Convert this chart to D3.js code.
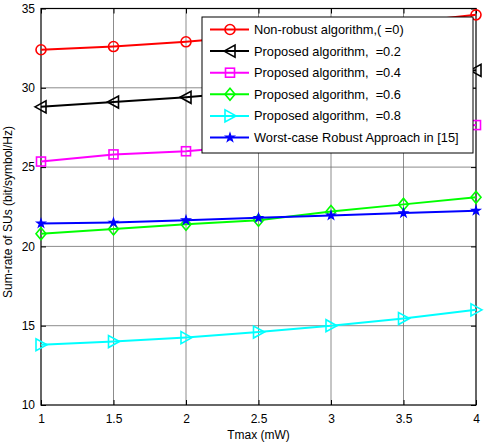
<!DOCTYPE html>
<html><head><meta charset="utf-8">
<script src="https://cdn.jsdelivr.net/npm/d3@7"></script>
<style>body{margin:0;background:#fff}svg{display:block;font-family:"Liberation Sans",Arial,sans-serif}text{white-space:pre}</style>
</head><body><svg id="c" width="488" height="446"></svg>
<script>
const xValues = [1, 1.5, 2, 2.5, 3, 3.5, 4];
const nonRobust = [32.4, 32.6, 32.9, 33.3, 33.7, 34.1, 34.6];
const proposed02 = [28.8, 29.1, 29.4, 29.8, 30.2, 30.6, 31.1];
const proposed04 = [25.35, 25.8, 26.0, 26.4, 26.8, 27.2, 27.65];
const proposed06 = [20.8, 21.1, 21.4, 21.65, 22.2, 22.65, 23.1];
const proposed08 = [13.8, 14.0, 14.25, 14.6, 15.0, 15.45, 16.0];
const worstCase = [21.45, 21.5, 21.65, 21.8, 21.95, 22.1, 22.25];
const xTicks = [1, 1.5, 2, 2.5, 3, 3.5, 4];
const yTicks = [10, 15, 20, 25, 30, 35];
const seriesNames = ["Non-robust algorithm,( =0)", "Proposed algorithm,  =0.2", "Proposed algorithm,  =0.4", "Proposed algorithm,  =0.6", "Proposed algorithm,  =0.8", "Worst-case Robust Approach in [15]"];
const xLabel = "Tmax (mW)";
const yLabel = "Sum-rate of SUs (bit/symbol/Hz)";

const series = [
  {name: seriesNames[0], values: nonRobust, color: "#ff0000", marker: "circle"},
  {name: seriesNames[1], values: proposed02, color: "#000000", marker: "triLeft"},
  {name: seriesNames[2], values: proposed04, color: "#ff00ff", marker: "square"},
  {name: seriesNames[3], values: proposed06, color: "#00ff00", marker: "diamond"},
  {name: seriesNames[4], values: proposed08, color: "#00ffff", marker: "triRight"},
  {name: seriesNames[5], values: worstCase, color: "#0000ff", marker: "star"}
];

const L = 41, R = 476, T = 8.5, B = 405;
const x = d3.scaleLinear().domain([1, 4]).range([L, R]);
const y = d3.scaleLinear().domain([10, 35]).range([B, T]);
const svg = d3.select("#c");

// grid
const g = svg.append("g");
g.selectAll(".gx").data(xTicks.slice(1, -1)).join("line")
  .attr("x1", d => x(d)).attr("x2", d => x(d)).attr("y1", T).attr("y2", B)
  .attr("stroke", "#6e6e6e").attr("stroke-width", 0.8);
g.selectAll(".gy").data(yTicks.slice(1, -1)).join("line")
  .attr("y1", d => y(d)).attr("y2", d => y(d)).attr("x1", L).attr("x2", R)
  .attr("stroke", "#6e6e6e").attr("stroke-width", 0.8);

// axes
const ax = svg.append("g").attr("transform", `translate(0,${B})`)
  .call(d3.axisBottom(x).tickValues(xTicks).tickSizeInner(-5).tickSizeOuter(0).tickPadding(9).tickFormat(d3.format("")));
const axT = svg.append("g").attr("transform", `translate(0,${T})`)
  .call(d3.axisTop(x).tickValues(xTicks).tickSizeInner(-5).tickSizeOuter(0).tickFormat(""));
const ay = svg.append("g").attr("transform", `translate(${L},0)`)
  .call(d3.axisLeft(y).tickValues(yTicks).tickSizeInner(-5).tickSizeOuter(0).tickPadding(6));
const ayR = svg.append("g").attr("transform", `translate(${R},0)`)
  .call(d3.axisRight(y).tickValues(yTicks).tickSizeInner(-5).tickSizeOuter(0).tickFormat(""));
[ax, axT, ay, ayR].forEach(a => {
  a.select(".domain").remove();
  a.selectAll("line").attr("stroke", "#000");
  a.selectAll("text").attr("font-size", 12).attr("fill", "#000").attr("font-family", '"Liberation Sans",Arial,sans-serif');
});
svg.append("rect").attr("x", L).attr("y", T).attr("width", R - L).attr("height", B - T)
  .attr("fill", "none").attr("stroke", "#000").attr("stroke-width", 1.2);

function marker(sel, type, color) {
  if (type === "circle") sel.append("circle").attr("r", 5).attr("fill", "none").attr("stroke", color).attr("stroke-width", 1.6);
  else if (type === "square") sel.append("rect").attr("x", -4.5).attr("y", -4.5).attr("width", 9).attr("height", 9).attr("fill", "none").attr("stroke", color).attr("stroke-width", 1.6);
  else if (type === "diamond") sel.append("path").attr("d", "M0,-6L5,0L0,6L-5,0Z").attr("fill", "none").attr("stroke", color).attr("stroke-width", 1.6);
  else if (type === "triLeft") sel.append("path").attr("d", "M-6,0L5,-6L5,6Z").attr("fill", "none").attr("stroke", color).attr("stroke-width", 1.6);
  else if (type === "triRight") sel.append("path").attr("d", "M6,0L-5,-6L-5,6Z").attr("fill", "none").attr("stroke", color).attr("stroke-width", 1.6);
  else if (type === "star") sel.append("path").attr("d", d3.symbol(d3.symbolStar, 22)()).attr("fill", color).attr("stroke", color).attr("stroke-width", 1.2);
}

const line = d3.line().x((d, i) => x(xValues[i])).y(d => y(d));
series.forEach(s => {
  svg.append("path").attr("d", line(s.values)).attr("fill", "none").attr("stroke", s.color).attr("stroke-width", 2);
  s.values.forEach((v, i) => {
    const m = svg.append("g").attr("transform", `translate(${x(xValues[i])},${y(v)})`);
    marker(m, s.marker, s.color);
  });
});

// legend
const lg = svg.append("g");
lg.append("rect").attr("x", 202).attr("y", 17).attr("width", 271).attr("height", 136)
  .attr("fill", "#fff").attr("stroke", "#000").attr("stroke-width", 1);
series.forEach((s, i) => {
  const yy = 29.5 + i * 21.6;
  lg.append("line").attr("x1", 210).attr("x2", 249).attr("y1", yy).attr("y2", yy).attr("stroke", s.color).attr("stroke-width", 2);
  const m = lg.append("g").attr("transform", `translate(230,${yy})`);
  marker(m, s.marker, s.color);
  lg.append("text").attr("x", 254).attr("y", yy).attr("dy", "0.35em").attr("font-size", 12.8).text(s.name);
});

svg.append("text").attr("x", (L + R) / 2).attr("y", 439).attr("text-anchor", "middle").attr("font-size", 12).text(xLabel);
svg.append("text").attr("transform", `translate(12,212) rotate(-90)`).attr("text-anchor", "middle").attr("font-size", 12).text(yLabel);
</script></body></html>
